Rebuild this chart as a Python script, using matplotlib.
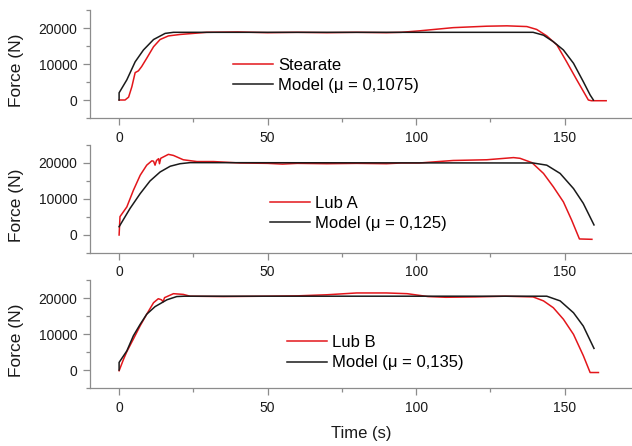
import matplotlib
matplotlib.use("Agg")
import matplotlib.pyplot as plt
from matplotlib.ticker import MultipleLocator

plt.rcParams['font.family'] = ['Liberation Sans', 'DejaVu Sans']

# ---- data ----
t_stearate = [0, 2, 3.2, 4.3, 5.4, 6.5, 7.6, 9.3, 11.6, 13.8, 16.6, 20.5, 29.5, 40, 50, 60, 70,
              80, 90, 95, 101, 112.5, 123.8, 130.6, 137.3, 140.6, 144, 147.4, 150.7, 154.1,
              158, 159, 164]
f_stearate = [0, 0, 800, 3700, 7600, 8100, 9300, 11600, 14800, 16800, 17800, 18200, 18800,
              18900, 18700, 18800, 18700, 18800, 18700, 18800, 19200, 20100, 20500, 20600,
              20400, 19600, 17800, 15300, 10600, 5600, 0, -200, -200]
t_model1 = [0, 0, 2.6, 5.4, 8.2, 11.6, 15.5, 18.3, 30, 139.4, 142.9, 146.2, 149.6, 153,
            156.3, 158.6, 159.7]
f_model1 = [0, 2000, 5600, 10600, 13900, 16800, 18500, 18800, 18800, 18800, 18000, 16200,
            13900, 10200, 5100, 1400, 0]

t_luba = [0, 0.3, 2.6, 4.8, 7.1, 9.3, 11, 11.6, 12.1, 12.6, 13.3, 13.6, 14, 16.6, 18.3, 21.6,
          26.2, 31.8, 40.7, 50, 55, 60, 70, 80, 90, 95, 101, 112.5, 123.8, 132.8, 135, 139,
          142.9, 146.2, 149.6, 152.4, 155, 159.2]
f_luba = [0, 5100, 7800, 12400, 16600, 19400, 20600, 20500, 19400, 20700, 21200, 19800, 21300,
          22400, 22100, 20900, 20400, 20400, 20000, 19900, 19700, 19900, 19800, 19900, 19800,
          20000, 20000, 20700, 20900, 21500, 21300, 20100, 17100, 13400, 9200, 4100, -1100,
          -1200]
t_model2 = [0, 3.7, 7.1, 10.4, 13.8, 17.2, 20.5, 23.9, 139.4, 144, 148.5, 153, 156.3, 159.9]
f_model2 = [2300, 7400, 11500, 15000, 17500, 19100, 19800, 20100, 20000, 19400, 17100, 12900,
            8800, 2800]

t_lubb = [0, 1.5, 2.6, 4.8, 7.1, 9.3, 11.6, 13.2, 14.3, 14.8, 15.3, 18.3, 21.6, 23.9, 35, 50,
          60, 70, 80, 90, 97, 104, 110, 120, 130, 139.4, 142.9, 146.2, 149.6, 153, 156.3,
          158.6, 161.4]
f_lubb = [-200, 3000, 5100, 8600, 12300, 15500, 18700, 19800, 19500, 18900, 20100, 21200,
          21000, 20500, 20400, 20500, 20600, 20900, 21400, 21400, 21200, 20400, 20200, 20300,
          20500, 20300, 19200, 17300, 14100, 9900, 4000, -700, -700]
t_model3 = [0, 0, 2.6, 4.8, 7.1, 9.3, 12.1, 16.1, 19.4, 22, 144, 148.5, 153, 156.3, 159.9]
f_model3 = [0, 2100, 5300, 9500, 12700, 15500, 17600, 19500, 20400, 20500, 20500, 19200,
            15900, 12200, 6000]

exp_labels = ["Stearate", "Lub A", "Lub B"]
model_labels = ["Model (\u03bc = 0,1075)", "Model (\u03bc = 0,125)", "Model (\u03bc = 0,135)"]
x_ticks = [0, 50, 100, 150]
y_ticks = [0, 10000, 20000]

series = [(t_stearate, f_stearate, t_model1, f_model1),
          (t_luba, f_luba, t_model2, f_model2),
          (t_lubb, f_lubb, t_model3, f_model3)]

W, H = 632, 446
fig = plt.figure(figsize=(W / 100, H / 100), dpi=100)

# axes boxes in pixels: (top, bottom)
boxes = [(10, 118), (145, 253), (280, 388)]
left_px = 90
legend_pos = [(233, 58), (270, 196), (287, 335)]  # top-left of legend in px

red = '#e3161b'
black = '#1a1a1a'
gray = '#8c8c8c'

for i, ((te, fe, tm, fm), (top, bot)) in enumerate(zip(series, boxes)):
    ax = fig.add_axes([left_px / W, 1 - bot / H, 1 - left_px / W, (bot - top) / H])
    ax.plot(te, fe, color=red, lw=1.1, label=exp_labels[i])
    ax.plot(tm, fm, color=black, lw=1.1, label=model_labels[i])
    ax.set_xlim(-9.8, 172.7)
    ax.set_ylim(-5000, 25000)
    ax.set_xticks(x_ticks)
    ax.set_yticks(y_ticks)
    ax.xaxis.set_minor_locator(MultipleLocator(25))
    ax.yaxis.set_minor_locator(MultipleLocator(5000))
    for s in ['top', 'right']:
        ax.spines[s].set_visible(False)
    for s in ['left', 'bottom']:
        ax.spines[s].set_color(gray)
        ax.spines[s].set_linewidth(0.9)
    ax.tick_params(which='major', length=5, width=0.9, color=gray, labelsize=10,
                   labelcolor='#1a1a1a', direction='out')
    ax.tick_params(which='minor', length=3, width=0.9, color=gray, direction='out')
    ax.tick_params(axis='x', pad=4)
    ax.tick_params(axis='y', pad=4)
    ax.set_ylabel("Force (N)", fontsize=12.5, color='#1a1a1a')
    ax.yaxis.set_label_coords(-0.122, 0.44)
    ax.patch.set_alpha(0)
    lx, ly = legend_pos[i]
    ax.legend(loc='upper left', bbox_to_anchor=(lx / W, 1 - ly / H),
              bbox_transform=fig.transFigure, frameon=False, fontsize=12,
              handlelength=2.4, handletextpad=0.3, labelspacing=0.32, borderpad=0,
              borderaxespad=0)
    if i == 2:
        ax.set_xlabel("Time (s)", fontsize=12, color='#1a1a1a', labelpad=8)

fig.savefig("out.png", dpi=100)
